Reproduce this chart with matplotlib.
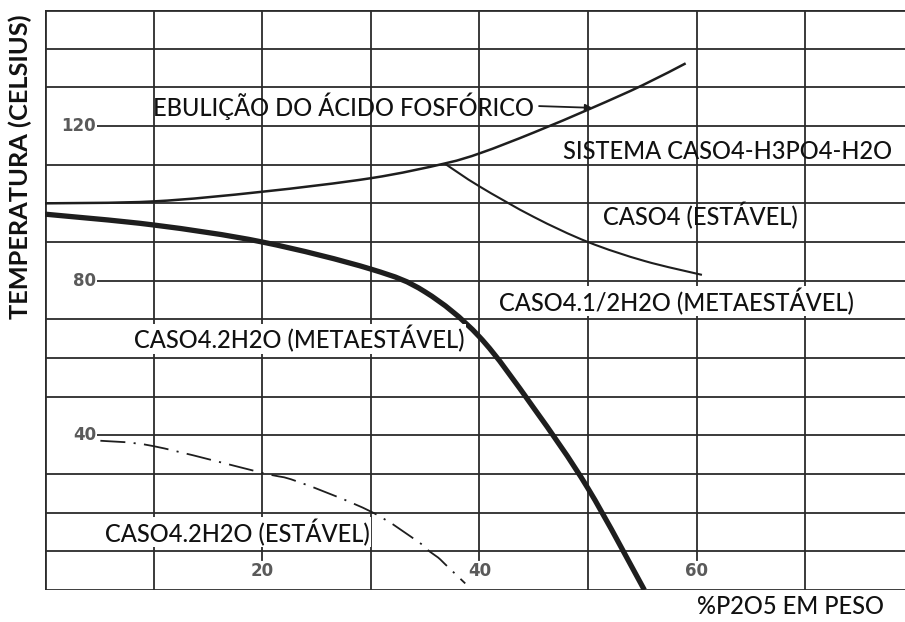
import matplotlib
matplotlib.use("Agg")
import matplotlib.pyplot as plt
from matplotlib.path import Path
from matplotlib.patches import PathPatch

plt.rcParams["lines.scale_dashes"] = False

# Boiling curve of phosphoric acid
boil_x = [0, 10, 20, 30, 36.8, 40.2, 45, 50.4, 55, 59.0]
boil_y = [100, 100.5, 103.0, 106.5, 110.3, 113.1, 118.3, 124.7, 130.5, 136.2]

# CaSO4 (stable) boundary, starting at the triple point
anh_x = [36.8, 40, 45, 50, 55.2, 60.5]
anh_y = [110.3, 104.4, 96.5, 90.0, 85.1, 81.5]

# CaSO4.2H2O (metastable) / CaSO4.1/2H2O boundary
hemi_x = [0, 10, 20, 30, 35, 40, 45, 50, 55.2]
hemi_y = [97.2, 94.4, 90, 83.0, 77.1, 65.5, 47.1, 26.3, 0]

# CaSO4.2H2O (stable) boundary
gyp_x = [5.1, 10, 20, 23.2, 30, 34.5, 35.4, 36.2, 36.8, 38.7]
gyp_y = [38.6, 37.2, 30.3, 28.1, 20.3, 12.2, 10.0, 8.4, 6.8, 1.7]

y_ticks = [40, 80, 120]
x_ticks = [20, 40, 60]

XMAX = 79.2
YMAX = 150


def smooth_path(xs, ys):
    """Cubic Bezier path passing through every given point (Catmull-Rom)."""
    pts = list(zip(xs, ys))
    n = len(pts)
    verts = [pts[0]]
    codes = [Path.MOVETO]
    for i in range(n - 1):
        p0 = pts[i - 1] if i > 0 else pts[i]
        p1 = pts[i]
        p2 = pts[i + 1]
        p3 = pts[i + 2] if i + 2 < n else pts[i + 1]
        c1 = (p1[0] + (p2[0] - p0[0]) / 6, p1[1] + (p2[1] - p0[1]) / 6)
        c2 = (p2[0] - (p3[0] - p1[0]) / 6, p2[1] - (p3[1] - p1[1]) / 6)
        verts += [c1, c2, p2]
        codes += [Path.CURVE4] * 3
    return Path(verts, codes)


fig = plt.figure(figsize=(9.05, 6.22), dpi=100)
ax = fig.add_axes([45 / 905, 32 / 622, 860 / 905, 580 / 622])
ax.set_xlim(0, XMAX)
ax.set_ylim(0, YMAX)
ax.axis("off")

grid_c = "#2b2b2b"
grid_lw = 1.3
border_lw = 2.0

# horizontal rules
for y in range(10, YMAX, 10):
    x0 = 4.8 if y in y_ticks else 0
    ax.plot([x0, XMAX], [y, y], color=grid_c, lw=grid_lw, solid_capstyle="butt", zorder=1)
# vertical rules (labelled ones stop above the bottom row)
for x in range(10, int(XMAX) + 1, 10):
    y0 = 10 if x in x_ticks else 0
    ax.plot([x, x], [y0, YMAX], color=grid_c, lw=grid_lw, solid_capstyle="butt", zorder=1)
    if x in x_ticks:
        ax.plot([x, x], [7.8, 10], color=grid_c, lw=grid_lw, zorder=1)
# frame
ax.plot([0, XMAX], [0, 0], color=grid_c, lw=border_lw, zorder=1)
ax.plot([0, XMAX], [YMAX, YMAX], color=grid_c, lw=border_lw, zorder=1)
ax.plot([0, 0], [0, YMAX], color=grid_c, lw=border_lw, zorder=1)

tick_font = dict(family="DejaVu Sans", fontsize=12, fontweight="bold", color="#5a5a5a")
for y in y_ticks:
    ax.text(4.7, y, str(y), ha="right", va="center", zorder=3, **tick_font)
for x in x_ticks:
    ax.text(x, 4.8, str(x), ha="center", va="center", zorder=3, **tick_font)

# curves
curve_c = "#1e1e1e"
ax.add_patch(PathPatch(smooth_path(boil_x, boil_y), fill=False, edgecolor=curve_c,
                       lw=1.8, zorder=2))
ax.add_patch(PathPatch(smooth_path(anh_x, anh_y), fill=False, edgecolor=curve_c,
                       lw=1.5, zorder=2))
ax.add_patch(PathPatch(smooth_path(hemi_x, hemi_y), fill=False, edgecolor=curve_c,
                       lw=3.8, zorder=2, capstyle="butt"))
ax.add_patch(PathPatch(smooth_path(gyp_x, gyp_y), fill=False, edgecolor=curve_c,
                       lw=1.3, zorder=2, linestyle=(0, (18, 6, 1.5, 6))))

lab_font = dict(family="Lato", fontsize=17, fontweight=500, color="#111111")
white = dict(facecolor="white", edgecolor="none", pad=1.0)

ax.annotate("EBULIÇÃO DO ÁCIDO FOSFÓRICO", xy=(50.4, 124.7), xytext=(9.9, 125.2),
            ha="left", va="center", zorder=4, **lab_font,
            arrowprops=dict(arrowstyle="-|>", color=curve_c, lw=1.3,
                            mutation_scale=10, shrinkA=2, shrinkB=0,
                            relpos=(1.0, 0.5)))
ax.text(47.7, 113.5, "SISTEMA CASO4-H3PO4-H2O", ha="left", va="center", zorder=4, **lab_font)
ax.text(51.4, 96.9, "CASO4 (ESTÁVEL)", ha="left", va="center", zorder=4, **lab_font)
ax.text(41.8, 74.7, "CASO4.1/2H2O (METAESTÁVEL)", ha="left", va="center", zorder=4,
        bbox=white, **lab_font)
ax.text(8.2, 65.0, "CASO4.2H2O (METAESTÁVEL)", ha="left", va="center", zorder=4,
        bbox=white, **lab_font)
ax.text(5.5, 14.9, "CASO4.2H2O (ESTÁVEL)", ha="left", va="center", zorder=4,
        bbox=white, **lab_font)

fig.text(20 / 905, 1 - 167 / 622, "TEMPERATURA (CELSIUS)", rotation=90,
         ha="center", va="center", family="Lato", fontsize=18.3, fontweight="bold",
         color="#111111")
fig.text(884 / 905, 1 - 607 / 622, "%P2O5 EM PESO", ha="right", va="center",
         family="Lato", fontsize=17, fontweight=500, color="#111111")

fig.savefig("out.png", dpi=100, facecolor="white")
